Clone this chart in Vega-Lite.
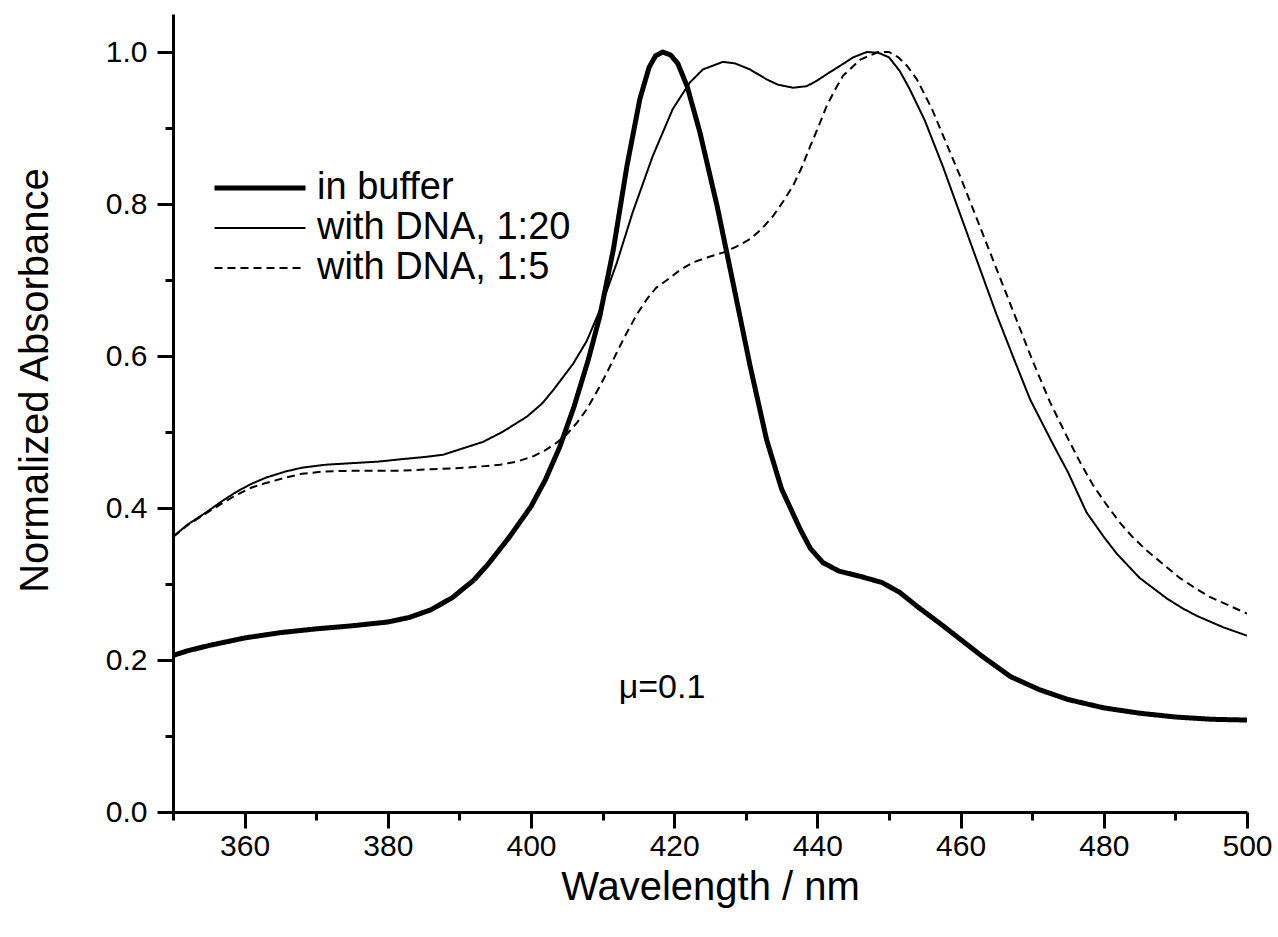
{
  "$schema": "https://vega.github.io/schema/vega-lite/v6.json",
  "width": 1074,
  "height": 798,
  "autosize": {"type": "none"},
  "padding": {"left": 173, "top": 14, "right": 31, "bottom": 125},
  "background": "white",
  "config": {
    "view": {"stroke": null},
    "font": "Liberation Sans",
    "axis": {"domainColor": "black", "domainWidth": 3, "tickColor": "black", "tickWidth": 3, "labelColor": "black", "titleColor": "black", "labelFont": "Liberation Sans", "titleFont": "Liberation Sans", "grid": false, "titleFontWeight": "normal"}
  },
  "datasets": {
    "spec": [
      {"s": "in buffer", "x": 350, "y": 0.206}, {"s": "in buffer", "x": 352, "y": 0.212}, {"s": "in buffer", "x": 355, "y": 0.219}, {"s": "in buffer", "x": 358, "y": 0.225}, {"s": "in buffer", "x": 360, "y": 0.229}, {"s": "in buffer", "x": 365, "y": 0.236}, {"s": "in buffer", "x": 370, "y": 0.241}, {"s": "in buffer", "x": 375, "y": 0.245}, {"s": "in buffer", "x": 380, "y": 0.25}, {"s": "in buffer", "x": 383, "y": 0.256}, {"s": "in buffer", "x": 386, "y": 0.266}, {"s": "in buffer", "x": 389, "y": 0.282}, {"s": "in buffer", "x": 392, "y": 0.305}, {"s": "in buffer", "x": 394, "y": 0.326}, {"s": "in buffer", "x": 397, "y": 0.362}, {"s": "in buffer", "x": 400, "y": 0.402}, {"s": "in buffer", "x": 402, "y": 0.437}, {"s": "in buffer", "x": 404, "y": 0.48}, {"s": "in buffer", "x": 406, "y": 0.533}, {"s": "in buffer", "x": 408, "y": 0.595}, {"s": "in buffer", "x": 409.6, "y": 0.652}, {"s": "in buffer", "x": 411.5, "y": 0.74}, {"s": "in buffer", "x": 413.4, "y": 0.85}, {"s": "in buffer", "x": 415.2, "y": 0.938}, {"s": "in buffer", "x": 416.5, "y": 0.98}, {"s": "in buffer", "x": 417.4, "y": 0.995}, {"s": "in buffer", "x": 418.4, "y": 1.0}, {"s": "in buffer", "x": 419.5, "y": 0.996}, {"s": "in buffer", "x": 420.5, "y": 0.985}, {"s": "in buffer", "x": 421.8, "y": 0.955}, {"s": "in buffer", "x": 423.6, "y": 0.894}, {"s": "in buffer", "x": 426, "y": 0.797}, {"s": "in buffer", "x": 428.2, "y": 0.697}, {"s": "in buffer", "x": 430.6, "y": 0.587}, {"s": "in buffer", "x": 432.9, "y": 0.49}, {"s": "in buffer", "x": 435, "y": 0.425}, {"s": "in buffer", "x": 437.6, "y": 0.372}, {"s": "in buffer", "x": 439, "y": 0.347}, {"s": "in buffer", "x": 440.8, "y": 0.328}, {"s": "in buffer", "x": 443, "y": 0.317}, {"s": "in buffer", "x": 446, "y": 0.31}, {"s": "in buffer", "x": 449, "y": 0.302}, {"s": "in buffer", "x": 451.5, "y": 0.289}, {"s": "in buffer", "x": 454, "y": 0.27}, {"s": "in buffer", "x": 457, "y": 0.249}, {"s": "in buffer", "x": 460, "y": 0.227}, {"s": "in buffer", "x": 463, "y": 0.205}, {"s": "in buffer", "x": 467, "y": 0.178}, {"s": "in buffer", "x": 471, "y": 0.161}, {"s": "in buffer", "x": 475, "y": 0.148}, {"s": "in buffer", "x": 480, "y": 0.137}, {"s": "in buffer", "x": 485, "y": 0.13}, {"s": "in buffer", "x": 490, "y": 0.125}, {"s": "in buffer", "x": 495, "y": 0.122}, {"s": "in buffer", "x": 500, "y": 0.121},

      {"s": "with DNA, 1:20", "x": 350, "y": 0.362}, {"s": "with DNA, 1:20", "x": 352, "y": 0.378}, {"s": "with DNA, 1:20", "x": 354.6, "y": 0.394}, {"s": "with DNA, 1:20", "x": 357, "y": 0.41}, {"s": "with DNA, 1:20", "x": 359, "y": 0.422}, {"s": "with DNA, 1:20", "x": 361, "y": 0.432}, {"s": "with DNA, 1:20", "x": 363, "y": 0.44}, {"s": "with DNA, 1:20", "x": 365.7, "y": 0.448}, {"s": "with DNA, 1:20", "x": 368, "y": 0.453}, {"s": "with DNA, 1:20", "x": 371.4, "y": 0.457}, {"s": "with DNA, 1:20", "x": 375, "y": 0.459}, {"s": "with DNA, 1:20", "x": 378.6, "y": 0.461}, {"s": "with DNA, 1:20", "x": 381.7, "y": 0.464}, {"s": "with DNA, 1:20", "x": 385, "y": 0.467}, {"s": "with DNA, 1:20", "x": 387.7, "y": 0.47}, {"s": "with DNA, 1:20", "x": 390, "y": 0.477}, {"s": "with DNA, 1:20", "x": 393.3, "y": 0.487}, {"s": "with DNA, 1:20", "x": 396, "y": 0.5}, {"s": "with DNA, 1:20", "x": 399.4, "y": 0.52}, {"s": "with DNA, 1:20", "x": 401.5, "y": 0.537}, {"s": "with DNA, 1:20", "x": 403.1, "y": 0.555}, {"s": "with DNA, 1:20", "x": 405.9, "y": 0.59}, {"s": "with DNA, 1:20", "x": 407.8, "y": 0.62}, {"s": "with DNA, 1:20", "x": 409.6, "y": 0.66}, {"s": "with DNA, 1:20", "x": 412, "y": 0.723}, {"s": "with DNA, 1:20", "x": 414.2, "y": 0.789}, {"s": "with DNA, 1:20", "x": 417, "y": 0.863}, {"s": "with DNA, 1:20", "x": 419.8, "y": 0.925}, {"s": "with DNA, 1:20", "x": 422.2, "y": 0.96}, {"s": "with DNA, 1:20", "x": 424, "y": 0.977}, {"s": "with DNA, 1:20", "x": 426.8, "y": 0.987}, {"s": "with DNA, 1:20", "x": 428.5, "y": 0.985}, {"s": "with DNA, 1:20", "x": 430.6, "y": 0.977}, {"s": "with DNA, 1:20", "x": 432.9, "y": 0.964}, {"s": "with DNA, 1:20", "x": 434.5, "y": 0.957}, {"s": "with DNA, 1:20", "x": 436.6, "y": 0.953}, {"s": "with DNA, 1:20", "x": 438.5, "y": 0.955}, {"s": "with DNA, 1:20", "x": 439.9, "y": 0.962}, {"s": "with DNA, 1:20", "x": 441.5, "y": 0.972}, {"s": "with DNA, 1:20", "x": 443.2, "y": 0.982}, {"s": "with DNA, 1:20", "x": 445, "y": 0.993}, {"s": "with DNA, 1:20", "x": 446.9, "y": 1.0}, {"s": "with DNA, 1:20", "x": 448.5, "y": 0.999}, {"s": "with DNA, 1:20", "x": 450, "y": 0.993}, {"s": "with DNA, 1:20", "x": 451.5, "y": 0.975}, {"s": "with DNA, 1:20", "x": 452.9, "y": 0.951}, {"s": "with DNA, 1:20", "x": 455, "y": 0.91}, {"s": "with DNA, 1:20", "x": 457.5, "y": 0.85}, {"s": "with DNA, 1:20", "x": 460, "y": 0.785}, {"s": "with DNA, 1:20", "x": 462.5, "y": 0.72}, {"s": "with DNA, 1:20", "x": 465, "y": 0.655}, {"s": "with DNA, 1:20", "x": 467.5, "y": 0.595}, {"s": "with DNA, 1:20", "x": 469.7, "y": 0.543}, {"s": "with DNA, 1:20", "x": 472.9, "y": 0.484}, {"s": "with DNA, 1:20", "x": 475, "y": 0.447}, {"s": "with DNA, 1:20", "x": 477.6, "y": 0.394}, {"s": "with DNA, 1:20", "x": 480, "y": 0.362}, {"s": "with DNA, 1:20", "x": 481.8, "y": 0.34}, {"s": "with DNA, 1:20", "x": 485, "y": 0.308}, {"s": "with DNA, 1:20", "x": 488.8, "y": 0.281}, {"s": "with DNA, 1:20", "x": 491, "y": 0.268}, {"s": "with DNA, 1:20", "x": 493, "y": 0.258}, {"s": "with DNA, 1:20", "x": 496.7, "y": 0.243}, {"s": "with DNA, 1:20", "x": 500, "y": 0.232},

      {"s": "with DNA, 1:5", "x": 350, "y": 0.362}, {"s": "with DNA, 1:5", "x": 352, "y": 0.377}, {"s": "with DNA, 1:5", "x": 354.6, "y": 0.393}, {"s": "with DNA, 1:5", "x": 357, "y": 0.407}, {"s": "with DNA, 1:5", "x": 359, "y": 0.418}, {"s": "with DNA, 1:5", "x": 361, "y": 0.427}, {"s": "with DNA, 1:5", "x": 363, "y": 0.433}, {"s": "with DNA, 1:5", "x": 365.7, "y": 0.44}, {"s": "with DNA, 1:5", "x": 368, "y": 0.445}, {"s": "with DNA, 1:5", "x": 371, "y": 0.448}, {"s": "with DNA, 1:5", "x": 375, "y": 0.449}, {"s": "with DNA, 1:5", "x": 378, "y": 0.449}, {"s": "with DNA, 1:5", "x": 381.7, "y": 0.449}, {"s": "with DNA, 1:5", "x": 386, "y": 0.451}, {"s": "with DNA, 1:5", "x": 391, "y": 0.453}, {"s": "with DNA, 1:5", "x": 395.7, "y": 0.457}, {"s": "with DNA, 1:5", "x": 398, "y": 0.461}, {"s": "with DNA, 1:5", "x": 400.3, "y": 0.468}, {"s": "with DNA, 1:5", "x": 402, "y": 0.476}, {"s": "with DNA, 1:5", "x": 403.6, "y": 0.486}, {"s": "with DNA, 1:5", "x": 405, "y": 0.497}, {"s": "with DNA, 1:5", "x": 406.4, "y": 0.512}, {"s": "with DNA, 1:5", "x": 407.8, "y": 0.53}, {"s": "with DNA, 1:5", "x": 409.6, "y": 0.56}, {"s": "with DNA, 1:5", "x": 410.6, "y": 0.578}, {"s": "with DNA, 1:5", "x": 412, "y": 0.605}, {"s": "with DNA, 1:5", "x": 413.4, "y": 0.631}, {"s": "with DNA, 1:5", "x": 414.8, "y": 0.655}, {"s": "with DNA, 1:5", "x": 416.2, "y": 0.675}, {"s": "with DNA, 1:5", "x": 417.5, "y": 0.69}, {"s": "with DNA, 1:5", "x": 419, "y": 0.7}, {"s": "with DNA, 1:5", "x": 420.8, "y": 0.713}, {"s": "with DNA, 1:5", "x": 422.6, "y": 0.723}, {"s": "with DNA, 1:5", "x": 424.7, "y": 0.73}, {"s": "with DNA, 1:5", "x": 426.8, "y": 0.736}, {"s": "with DNA, 1:5", "x": 428.7, "y": 0.744}, {"s": "with DNA, 1:5", "x": 430.6, "y": 0.754}, {"s": "with DNA, 1:5", "x": 432.2, "y": 0.767}, {"s": "with DNA, 1:5", "x": 433.8, "y": 0.784}, {"s": "with DNA, 1:5", "x": 435.2, "y": 0.803}, {"s": "with DNA, 1:5", "x": 436.6, "y": 0.824}, {"s": "with DNA, 1:5", "x": 437.8, "y": 0.848}, {"s": "with DNA, 1:5", "x": 439, "y": 0.876}, {"s": "with DNA, 1:5", "x": 440.2, "y": 0.903}, {"s": "with DNA, 1:5", "x": 441.3, "y": 0.929}, {"s": "with DNA, 1:5", "x": 442.5, "y": 0.951}, {"s": "with DNA, 1:5", "x": 443.6, "y": 0.969}, {"s": "with DNA, 1:5", "x": 446, "y": 0.99}, {"s": "with DNA, 1:5", "x": 448.5, "y": 1.0}, {"s": "with DNA, 1:5", "x": 450, "y": 1.0}, {"s": "with DNA, 1:5", "x": 451.3, "y": 0.993}, {"s": "with DNA, 1:5", "x": 452.5, "y": 0.982}, {"s": "with DNA, 1:5", "x": 453.9, "y": 0.964}, {"s": "with DNA, 1:5", "x": 456, "y": 0.925}, {"s": "with DNA, 1:5", "x": 458, "y": 0.88}, {"s": "with DNA, 1:5", "x": 460, "y": 0.835}, {"s": "with DNA, 1:5", "x": 462.5, "y": 0.775}, {"s": "with DNA, 1:5", "x": 465, "y": 0.715}, {"s": "with DNA, 1:5", "x": 467.5, "y": 0.655}, {"s": "with DNA, 1:5", "x": 470, "y": 0.595}, {"s": "with DNA, 1:5", "x": 472.5, "y": 0.539}, {"s": "with DNA, 1:5", "x": 474.9, "y": 0.493}, {"s": "with DNA, 1:5", "x": 476.7, "y": 0.46}, {"s": "with DNA, 1:5", "x": 478.5, "y": 0.43}, {"s": "with DNA, 1:5", "x": 480.4, "y": 0.404}, {"s": "with DNA, 1:5", "x": 482.3, "y": 0.38}, {"s": "with DNA, 1:5", "x": 484, "y": 0.362}, {"s": "with DNA, 1:5", "x": 486, "y": 0.344}, {"s": "with DNA, 1:5", "x": 488.3, "y": 0.326}, {"s": "with DNA, 1:5", "x": 490.6, "y": 0.308}, {"s": "with DNA, 1:5", "x": 492.7, "y": 0.295}, {"s": "with DNA, 1:5", "x": 494.8, "y": 0.283}, {"s": "with DNA, 1:5", "x": 497.4, "y": 0.272}, {"s": "with DNA, 1:5", "x": 500, "y": 0.261}
    ],
    "note": [{"x": 418.3, "y": 0.163, "t": "μ=0.1"}]
  },
  "layer": [
    {
      "data": {"name": "spec"},
      "mark": {"type": "line", "color": "black", "clip": true, "strokeJoin": "round", "strokeCap": "butt"},
      "encoding": {
        "x": {
          "field": "x", "type": "quantitative",
          "scale": {"domain": [350, 500], "nice": false, "zero": false},
          "axis": {
            "title": "Wavelength / nm", "titleFontSize": 40, "titlePadding": 6,
            "values": [350, 360, 370, 380, 390, 400, 410, 420, 430, 440, 450, 460, 470, 480, 490, 500],
            "labelExpr": "datum.value % 20 === 0 ? datum.label : ''",
            "labelFontSize": 30, "labelPadding": 3, "labelFlush": false, "labelOverlap": false,
            "tickSize": {"condition": {"test": "datum.value % 20 === 0", "value": 16}, "value": 8}
          }
        },
        "y": {
          "field": "y", "type": "quantitative",
          "scale": {"domain": [0, 1.05], "nice": false, "zero": false},
          "axis": {
            "title": "Normalized Absorbance", "titleFontSize": 40,
            "titleAngle": -90, "titleX": -138, "titleY": 366, "titleAlign": "center", "titleBaseline": "middle",
            "values": [0, 0.1, 0.2, 0.3, 0.4, 0.5, 0.6, 0.7, 0.8, 0.9, 1.0],
            "labelExpr": "round(datum.value * 10) % 2 === 0 ? format(datum.value, '.1f') : ''",
            "labelFontSize": 30, "labelPadding": 10, "labelFlush": false, "labelOverlap": false,
            "tickSize": {"condition": {"test": "round(datum.value * 10) % 2 === 0", "value": 16}, "value": 8}
          }
        },
        "detail": {"field": "s", "type": "nominal"},
        "strokeDash": {
          "field": "s", "type": "nominal",
          "scale": {"domain": ["in buffer", "with DNA, 1:20", "with DNA, 1:5"], "range": [[1, 0], [1, 0], [8, 5]]},
          "legend": {
            "title": null, "orient": "none", "legendX": 68, "legendY": 155,
            "symbolType": "stroke", "symbolSize": 8281, "symbolStrokeColor": "black",
            "labelFontSize": 38, "labelFont": "Liberation Sans", "labelColor": "black", "labelOffset": 38, "labelLimit": 0,
            "rowPadding": 2, "padding": 0, "offset": 0,
            "encode": {"symbols": {"update": {"strokeWidth": {"signal": "datum.value === 'in buffer' ? 5 : 2"}}}}
          }
        },
        "strokeWidth": {"condition": {"test": "datum.s === 'in buffer'", "value": 5}, "value": 2}
      }
    },
    {
      "data": {"name": "note"},
      "mark": {"type": "text", "fontSize": 34, "font": "Liberation Sans", "align": "center", "baseline": "middle", "color": "black"},
      "encoding": {
        "x": {"field": "x", "type": "quantitative"},
        "y": {"field": "y", "type": "quantitative"},
        "text": {"field": "t"}
      }
    }
  ]
}
